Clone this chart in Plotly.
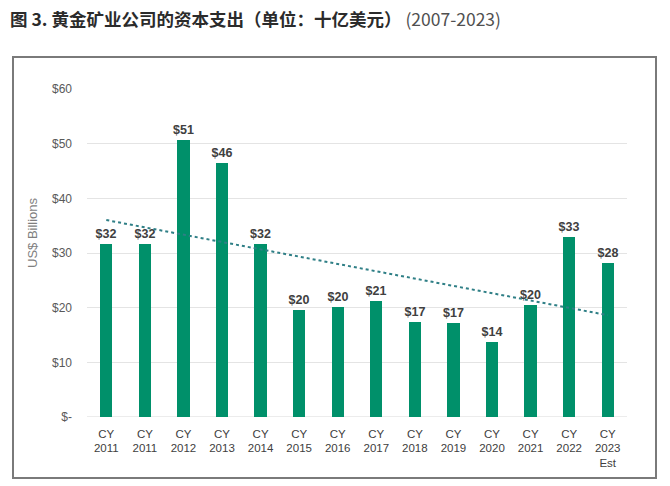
import numpy as np
import plotly.graph_objects as go

categories = ["CY<br>2011", "CY<br>2011", "CY<br>2012", "CY<br>2013", "CY<br>2014", "CY<br>2015",
              "CY<br>2016", "CY<br>2017", "CY<br>2018", "CY<br>2019", "CY<br>2020", "CY<br>2021",
              "CY<br>2022", "CY<br>2023<br>Est"]
capex = [31.6, 31.6, 50.7, 46.4, 31.6, 19.6, 20.1, 21.2, 17.4, 17.2, 13.7, 20.4, 32.9, 28.2]
y_ticks = [0, 10, 20, 30, 40, 50, 60]
y_tick_labels = ["$-", "$10", "$20", "$30", "$40", "$50", "$60"]

x = np.arange(len(capex))
slope, intercept = np.polyfit(x, capex, 1)
trend = slope * x + intercept

FONT = "Liberation Sans, Arial"

fig = go.Figure()
fig.add_trace(go.Bar(
    x=x, y=capex, width=0.32,
    marker=dict(color="#00906a", line=dict(width=0)),
    texttemplate="$%{y:.0f}", textposition="outside", cliponaxis=False,
    constraintext="none",
    textfont=dict(family=FONT, size=12.5, color="#404040", weight="bold"),
    hoverinfo="skip",
))
fig.add_trace(go.Scatter(
    x=x, y=trend, mode="lines",
    line=dict(color="#2f7f86", width=2, dash="dot"),
    hoverinfo="skip",
))

L, R, T, B = 87, 627, 89, 417
W, H = 670, 486
pw, ph = R - L, B - T

def px(xp):
    return (xp - L) / pw

def py(yp):
    return (B - yp) / ph

fig.update_layout(
    width=W, height=H,
    margin=dict(l=L, r=W - R, t=T, b=H - B),
    paper_bgcolor="white", plot_bgcolor="white",
    showlegend=False,
    bargap=0,
    font=dict(family=FONT, color="#404040"),
    title=dict(
        text=("<b>图 3. 黄金矿业公司的资本支出（单位：十亿美元）</b>"
              "<span style='color:#505050'> (2007-2023)</span>"),
        x=10 / W, xanchor="left", xref="container",
        y=1 - 19.5 / H, yanchor="middle", yref="container",
        font=dict(family="Noto Sans CJK SC", size=17.5, color="#2b2b2b"),
    ),
    xaxis=dict(
        range=[-0.5, 13.5], tickvals=list(x), ticktext=categories,
        showgrid=False, zeroline=False, showline=False, ticks="",
        tickfont=dict(size=11.5, color="#404040"),
        ticklabelstandoff=8,
        fixedrange=True,
    ),
    yaxis=dict(
        range=[0, 60], tickvals=y_ticks, ticktext=y_tick_labels,
        showgrid=True, gridcolor="#e4e4e4", gridwidth=1,
        zeroline=False, showline=False, ticks="",
        tickfont=dict(size=12, color="#595959"),
        ticklabelstandoff=14,
        fixedrange=True,
    ),
    annotations=[
        dict(text="US$ Billions", textangle=-90, showarrow=False,
             xref="paper", yref="paper", x=px(33), y=py(233),
             xanchor="center", yanchor="middle",
             font=dict(family=FONT, size=13, color="#7f7f7f")),
    ],
    shapes=[
        dict(type="rect", xref="paper", yref="paper",
             x0=px(13), x1=px(656), y0=py(478), y1=py(57),
             line=dict(color="#7a7a7a", width=2), fillcolor="rgba(0,0,0,0)", layer="below"),
        dict(type="line", xref="paper", yref="y", x0=0, x1=1, y0=0, y1=0,
             line=dict(color="#d9d9d9", width=1), layer="below"),
    ],
)

fig.write_html("out.html", config={"displayModeBar": False},
               post_script="document.body.style.margin='0';")
